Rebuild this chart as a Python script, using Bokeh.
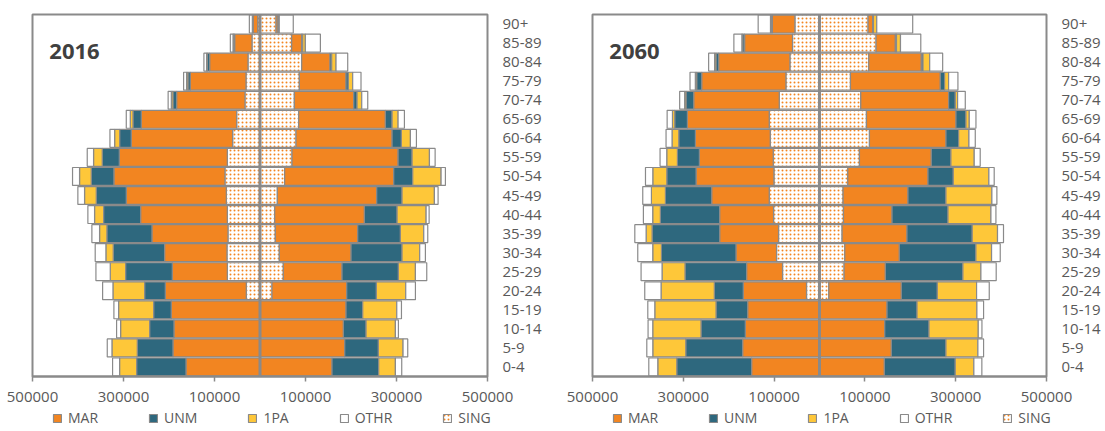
import numpy as np
from bokeh.plotting import figure
from bokeh.models import (ColumnDataSource, FixedTicker, CustomJSTickFormatter, Span, Label,
                          Legend, LegendItem, FactorRange, Range1d)
from bokeh.layouts import row, column
from bokeh.embed import file_html
from bokeh.resources import INLINE

# Age groups, listed top (oldest) to bottom (youngest)
ages = ["90+", "85-89", "80-84", "75-79", "70-74", "65-69", "60-64", "55-59", "50-54",
        "45-49", "40-44", "35-39", "30-34", "25-29", "20-24", "15-19", "10-14", "5-9", "0-4"]

categories = ["MAR", "UNM", "1PA", "OTHR", "SING"]

# ---------------- 2016 ----------------
sing_2016_l = [5000, 17600, 26400, 30800, 33000, 51300, 60100, 71800, 77000, 74000, 71800, 70400, 72600, 71800, 30100, 0, 0, 0, 0]
mar_2016_l  = [10300, 38100, 84300, 122400, 150300, 209600, 222800, 237500, 244100, 219900, 190600, 167100, 137100, 121000, 178100, 195000, 189100, 191300, 162700]
unm_2016_l  = [1000, 2900, 5100, 5100, 8100, 18300, 25600, 37400, 49800, 66000, 81400, 99000, 112900, 102600, 45400, 38800, 53500, 78400, 108500]
opa_2016_l  = [500, 700, 1500, 3000, 3500, 5900, 11000, 19100, 25700, 25700, 19800, 16100, 16100, 33700, 69600, 77000, 63800, 55700, 37400]
oth_2016_l  = [6600, 5900, 6000, 6600, 7000, 8800, 10300, 13900, 15400, 14700, 14700, 16900, 23500, 31500, 22700, 10300, 8800, 10300, 15400]

sing_2016_r = [35200, 69600, 91600, 86500, 75500, 85000, 79200, 70400, 54200, 38100, 32300, 33700, 42500, 51300, 26400, 0, 0, 0, 0]
mar_2016_r  = [4400, 22000, 62300, 102600, 130500, 190600, 211100, 233100, 239700, 218400, 197200, 181100, 157600, 129000, 164200, 189100, 183300, 186200, 158300]
unm_2016_r  = [500, 2200, 3700, 5100, 7300, 14700, 20500, 30800, 41800, 55700, 71800, 93800, 112100, 123900, 65200, 36700, 49800, 74000, 102600]
opa_2016_r  = [2200, 5900, 9500, 9500, 10300, 13200, 19800, 38100, 62300, 71100, 63800, 51300, 38800, 37400, 64500, 74800, 64500, 54200, 36700]
oth_2016_r  = [30800, 33000, 25700, 18300, 13200, 13900, 13200, 12500, 9500, 8100, 6600, 8800, 12500, 24900, 21300, 10300, 6600, 10300, 13900]

# ---------------- 2060 ----------------
sing_2060_l = [54200, 59400, 65200, 74000, 88700, 110700, 108500, 101900, 100400, 110700, 101200, 90200, 94600, 81400, 28600, 0, 0, 0, 0]
mar_2060_l  = [49800, 105600, 156900, 185500, 188400, 180300, 164900, 162700, 171500, 126800, 118800, 129700, 89400, 79200, 139300, 158300, 163500, 169300, 149500]
unm_2060_l  = [1500, 4000, 5900, 11000, 16900, 27900, 36700, 48400, 64500, 101900, 130500, 148800, 164200, 135600, 63800, 69600, 97500, 125300, 164900]
opa_2060_l  = [2500, 2000, 3000, 3000, 3000, 5000, 14700, 23500, 30800, 30800, 16900, 13200, 19100, 50600, 117300, 134900, 106300, 72600, 41800]
oth_2060_l  = [27100, 17600, 13200, 11700, 11000, 11700, 13200, 14700, 16100, 19100, 20500, 24900, 33000, 46200, 35900, 15400, 10300, 13200, 19800]

sing_2060_r = [107000, 124600, 108500, 68200, 90900, 103400, 110000, 88000, 62300, 52000, 52800, 49800, 55700, 54200, 20500, 0, 0, 0, 0]
mar_2060_r  = [10300, 42500, 115800, 197900, 193500, 197200, 168600, 158300, 176700, 142900, 107000, 142900, 120200, 90900, 159800, 148800, 143700, 158300, 142900]
unm_2060_r  = [1500, 2500, 3700, 9500, 14700, 22000, 27900, 43200, 55700, 83600, 123200, 143700, 168600, 170800, 79200, 66000, 97500, 120200, 156100]
opa_2060_r  = [7300, 8800, 14700, 8800, 5100, 7300, 22700, 51300, 78400, 101200, 94600, 55700, 34500, 39600, 86500, 131900, 108500, 70400, 41000]
oth_2060_r  = [79200, 44700, 28600, 20500, 16900, 14700, 13900, 13200, 11700, 11000, 11000, 13200, 19100, 33700, 27900, 14700, 8100, 12500, 17600]

x_ticks = [-500000, -300000, -100000, 100000, 300000, 500000]

# ---------------- styling ----------------
COLORS = {"MAR": "#F28521", "UNM": "#2E687E", "1PA": "#FEC739", "OTHR": "#FFFFFF", "SING": "#FFFFFF"}
EDGE = "#8A8A8A"
TXT = "#595959"
FONT = "Open Sans"


def bar_style(cat):
    kw = dict(fill_color=COLORS[cat], line_color=EDGE, line_width=1.2)
    if cat == "SING":
        kw.update(hatch_pattern="dot", hatch_color="#F28521", hatch_scale=4, hatch_weight=1.5)
    return kw


def make_panel(year, left, right, width, min_right):
    p = figure(width=width, height=408, y_range=FactorRange(factors=ages[::-1], range_padding=0),
               x_range=Range1d(-500000, 500000), y_axis_location="right",
               output_backend="svg", toolbar_location=None,
               min_border_left=32, min_border_right=min_right, min_border_top=14, min_border_bottom=32)
    p.outline_line_color = EDGE
    p.outline_line_width = 2
    p.xgrid.visible = False
    p.ygrid.visible = False

    for data, sign in ((left, -1), (right, 1)):
        start = np.zeros(len(ages))
        for cat in ["SING", "MAR", "UNM", "1PA", "OTHR"]:
            end = start + np.asarray(data[cat], dtype=float)
            src = ColumnDataSource(dict(age=ages, a=sign * start, b=sign * end))
            p.hbar(y="age", left="a", right="b", height=0.94, source=src, **bar_style(cat))
            start = end

    p.add_layout(Span(location=0, dimension="height", line_color=EDGE, line_width=3))

    xa = p.xaxis[0]
    xa.ticker = FixedTicker(ticks=x_ticks)
    xa.formatter = CustomJSTickFormatter(code="return Math.abs(tick).toString();")
    xa.axis_line_color = EDGE
    xa.axis_line_width = 2
    xa.major_tick_line_color = EDGE
    xa.major_tick_line_width = 1.5
    xa.major_tick_out = 5
    xa.major_tick_in = 0
    xa.minor_tick_line_color = None
    xa.major_label_standoff = 10
    xa.major_label_text_font = FONT
    xa.major_label_text_font_size = "15px"
    xa.major_label_text_color = TXT

    ya = p.yaxis[0]
    ya.axis_line_color = None
    ya.major_tick_line_color = None
    ya.minor_tick_line_color = None
    ya.major_tick_out = 0
    ya.major_tick_in = 0
    ya.major_label_standoff = 15
    ya.major_label_text_font = FONT
    ya.major_label_text_font_size = "15px"
    ya.major_label_text_color = TXT

    p.add_layout(Label(x=-463000, y=17.05, text=year, text_font=FONT, text_font_size="22px",
                       text_font_style="bold", text_color="#404040", text_baseline="middle"))
    return p


def make_legend(width):
    lf = figure(width=width, height=23, x_range=Range1d(0, 1), y_range=Range1d(0, 1),
                x_axis_location=None, y_axis_location=None,
                output_backend="svg", toolbar_location=None,
                min_border_left=0, min_border_right=0, min_border_top=0, min_border_bottom=0)
    lf.outline_line_color = None
    lf.xgrid.visible = False
    lf.ygrid.visible = False
    items = []
    for cat in categories:
        # swatch-only renderer: one row with no drawable coordinates
        src = ColumnDataSource(dict(y=[0.5], l=[np.nan], r=[np.nan]))
        r = lf.hbar(y="y", left="l", right="r", height=0.5, source=src, **bar_style(cat))
        items.append(LegendItem(label=cat, renderers=[r]))
    leg = Legend(items=items, orientation="horizontal", location=(52, 4),
                 glyph_width=10, glyph_height=10, label_standoff=6, spacing=50,
                 padding=0, margin=0, border_line_color=None, background_fill_alpha=0,
                 label_text_font=FONT, label_text_font_size="14px", label_text_color=TXT,
                 label_height=14)
    lf.add_layout(leg, "center")
    return lf


p1 = make_panel("2016",
                {"SING": sing_2016_l, "MAR": mar_2016_l, "UNM": unm_2016_l, "1PA": opa_2016_l, "OTHR": oth_2016_l},
                {"SING": sing_2016_r, "MAR": mar_2016_r, "UNM": unm_2016_r, "1PA": opa_2016_r, "OTHR": oth_2016_r},
                560, 73)
p2 = make_panel("2060",
                {"SING": sing_2060_l, "MAR": mar_2060_l, "UNM": unm_2060_l, "1PA": opa_2060_l, "OTHR": oth_2060_l},
                {"SING": sing_2060_r, "MAR": mar_2060_r, "UNM": unm_2060_r, "1PA": opa_2060_r, "OTHR": oth_2060_r},
                543, 55)
l1 = make_legend(560)
l2 = make_legend(543)

layout = column(row(p1, p2), row(l1, l2))
open("out.html", "w").write(file_html(layout, INLINE))
